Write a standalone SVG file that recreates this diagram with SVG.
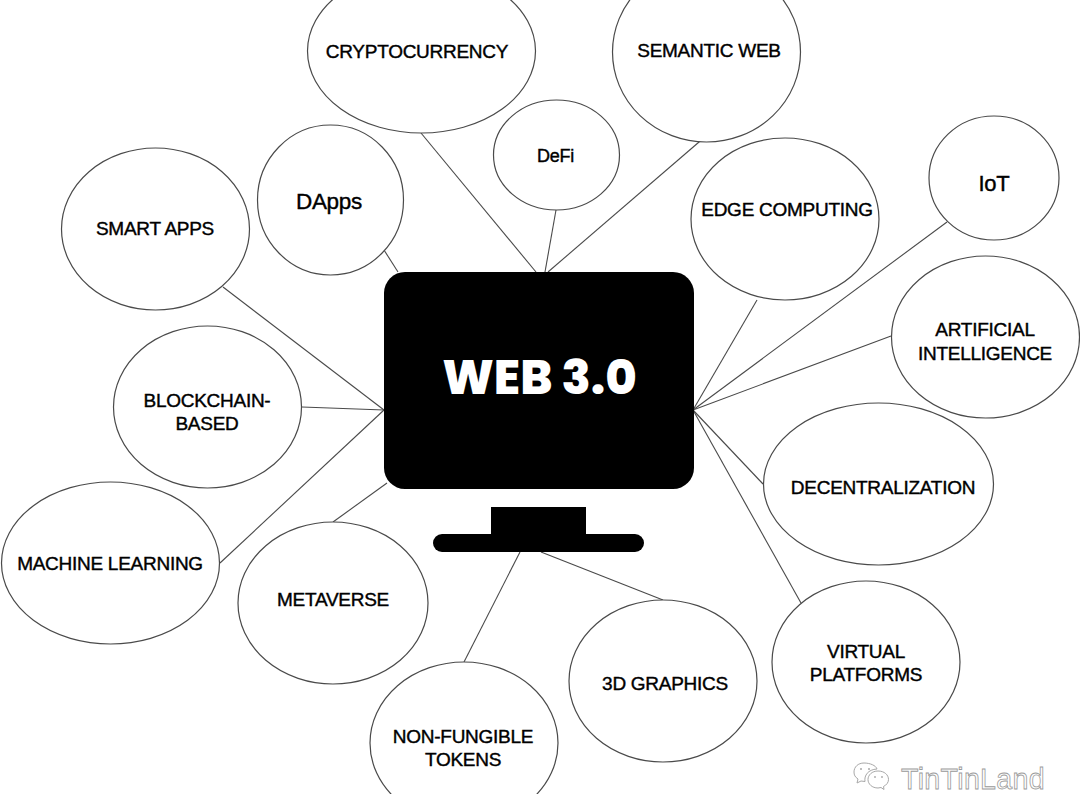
<svg xmlns="http://www.w3.org/2000/svg" width="1080" height="794" viewBox="0 0 1080 794">
<style>
.b{fill:#fff;stroke:#4a4a4a;stroke-width:1.2}
.c line{stroke:#4a4a4a;stroke-width:1.1}
text{font-family:"Liberation Sans",Arial,sans-serif;text-anchor:middle;fill:#000;stroke:#000;stroke-width:.4;font-size:19px;letter-spacing:-.27px}
.wm{font-family:"Liberation Sans",Arial,sans-serif;font-size:28.6px;fill:#fff;stroke:#9a9a9a;stroke-width:.8;letter-spacing:.3px;text-anchor:start}
.ic{fill:#fff;stroke:#a8a8a8;stroke-width:1}
.d{fill:#a8a8a8}
</style>
<rect width="1080" height="794" fill="#fff"/>
<g id="connectors" class="c">
<line x1="421" y1="133" x2="536" y2="272"/>
<line x1="556" y1="210" x2="545" y2="272"/>
<line x1="706" y1="136" x2="548" y2="272"/>
<line x1="384" y1="250" x2="398" y2="272"/>
<line x1="223" y1="287" x2="384" y2="410"/>
<line x1="302" y1="407" x2="384" y2="410"/>
<line x1="220" y1="563" x2="384" y2="410"/>
<line x1="333" y1="522" x2="387" y2="483"/>
<line x1="464" y1="662" x2="520" y2="552"/>
<line x1="663" y1="600" x2="541" y2="552"/>
<line x1="757" y1="300" x2="693" y2="410"/>
<line x1="947" y1="222" x2="693" y2="410"/>
<line x1="891" y1="336" x2="693" y2="410"/>
<line x1="763" y1="484" x2="693" y2="410"/>
<line x1="801" y1="603" x2="693" y2="410"/>
</g>
<g id="monitor">
<rect x="384" y="272" width="310" height="217" rx="21" fill="#000"/>
<rect x="491" y="507" width="95" height="30" fill="#000"/>
<rect x="433" y="534" width="211" height="18" rx="9" fill="#000"/>
<text x="539.500" y="394" style="font-family:'Poppins','Inter','Liberation Sans',sans-serif;font-size:48px;font-weight:800;fill:#fff;stroke:none;letter-spacing:0">WEB 3.0</text>
</g>
<g id="n-crypto"><ellipse class="b" cx="421.500" cy="51" rx="114" ry="82"/><text x="417" y="58">CRYPTOCURRENCY</text></g>
<g id="n-semantic"><ellipse class="b" cx="706.500" cy="52" rx="94" ry="90"/><text x="709" y="57">SEMANTIC WEB</text></g>
<g id="n-defi"><ellipse class="b" cx="556.500" cy="155" rx="63" ry="55"/><text x="555.500" y="162" style="font-size:18px">DeFi</text></g>
<g id="n-edge"><ellipse class="b" cx="785" cy="219" rx="94" ry="81"/><text x="787" y="216">EDGE COMPUTING</text></g>
<g id="n-iot"><ellipse class="b" cx="994" cy="178" rx="65" ry="62"/><text x="994" y="191" style="font-size:22px">IoT</text></g>
<g id="n-ai"><ellipse class="b" cx="985.500" cy="337" rx="94" ry="81"/><text x="985" y="336">ARTIFICIAL</text><text x="985" y="360">INTELLIGENCE</text></g>
<g id="n-decentral"><ellipse class="b" cx="878.500" cy="484" rx="115" ry="81"/><text x="883" y="494">DECENTRALIZATION</text></g>
<g id="n-virtual"><ellipse class="b" cx="866" cy="662" rx="94" ry="81"/><text x="866" y="658">VIRTUAL</text><text x="866" y="681">PLATFORMS</text></g>
<g id="n-3d"><ellipse class="b" cx="663" cy="681" rx="94" ry="81"/><text x="665" y="690">3D GRAPHICS</text></g>
<g id="n-nft"><ellipse class="b" cx="464" cy="743" rx="94" ry="81"/><text x="463" y="743">NON-FUNGIBLE</text><text x="463" y="766">TOKENS</text></g>
<g id="n-metaverse"><ellipse class="b" cx="333" cy="603" rx="95" ry="81"/><text x="333" y="606">METAVERSE</text></g>
<g id="n-ml"><ellipse class="b" cx="110.500" cy="563" rx="109" ry="81"/><text x="110" y="570">MACHINE LEARNING</text></g>
<g id="n-blockchain"><ellipse class="b" cx="207.500" cy="407" rx="94" ry="81"/><text x="207" y="407">BLOCKCHAIN-</text><text x="207" y="430">BASED</text></g>
<g id="n-smart"><ellipse class="b" cx="155.500" cy="229" rx="94" ry="81"/><text x="155" y="235">SMART APPS</text></g>
<g id="n-dapps"><ellipse class="b" cx="330.500" cy="200" rx="73" ry="75"/><text x="329" y="209" style="font-size:22.500px">DApps</text></g>
<g id="watermark">
<path class="ic" d="M864 763c-6 0-10 4-10 9 0 3 1 5 4 7l-1 4 4-2 4 .5c-1-6 3-12 12-12.500-1-3.500-7-6-13-6z"/>
<path class="ic" d="M878 771c-6 0-10 4-10 8.500s4 8.500 10 8.500l3-.5 3 2-.5-3c3-1.500 5-4 5-7 0-4.500-4-8.500-10.500-8.500z"/>
<circle class="d" cx="861" cy="769" r="1"/><circle class="d" cx="869" cy="769" r="1"/><circle class="d" cx="875" cy="777" r=".9"/><circle class="d" cx="882" cy="777" r=".9"/>
<text class="wm" x="901" y="789">TinTinLand</text>
</g>
</svg>
